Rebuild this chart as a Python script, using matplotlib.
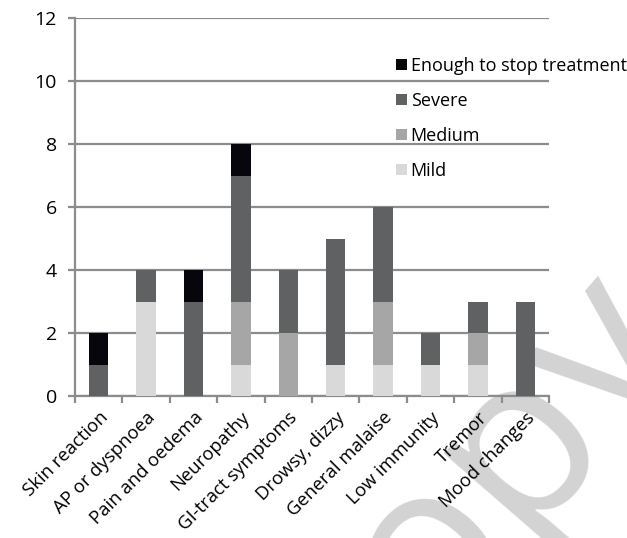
import numpy as np
import matplotlib.pyplot as plt

plt.rcParams['font.family'] = ['Open Sans', 'DejaVu Sans']

categories = ['Skin reaction', 'AP or dyspnoea', 'Pain and oedema', 'Neuropathy',
              'GI-tract symptoms', 'Drowsy, dizzy', 'General malaise', 'Low immunity',
              'Tremor', 'Mood changes']
mild = [0, 3, 0, 1, 0, 1, 1, 1, 1, 0]
medium = [0, 0, 0, 2, 2, 0, 2, 0, 1, 0]
severe = [1, 1, 3, 4, 2, 4, 3, 1, 1, 3]
stop = [1, 0, 1, 1, 0, 0, 0, 0, 0, 0]

series = [('Mild', mild, '#d9d9d9'),
          ('Medium', medium, '#a6a6a6'),
          ('Severe', severe, '#5f6162'),
          ('Enough to stop treatment', stop, '#06060c')]

fig = plt.figure(figsize=(6.27, 5.38), dpi=100)
ax = fig.add_axes([0.1196, 0.2639, 0.756, 0.7026])
ax.set_facecolor('none')

x = np.arange(len(categories))
bottom = np.zeros(len(categories))
handles = []
for name, vals, col in series:
    b = ax.bar(x, vals, 0.41, bottom=bottom, color=col, label=name, zorder=3)
    handles.append(b)
    bottom += np.array(vals)

ax.set_xlim(-0.5, len(categories) - 0.5)
ax.set_ylim(0, 12)
ax.set_yticks(range(0, 13, 2))
ax.yaxis.grid(True, color='#8c8c8c', linewidth=1.6, zorder=1)
ax.set_axisbelow(True)
for s in ['top', 'right']:
    ax.spines[s].set_visible(False)
for s in ['left', 'bottom']:
    ax.spines[s].set_color('#8c8c8c')
    ax.spines[s].set_linewidth(1.6)

ax.set_xticks(x)
ax.set_xticklabels(categories, rotation=45, ha='right', va='top',
                   rotation_mode='anchor', fontsize=13.3)
ax.set_xticks(np.arange(-0.5, len(categories), 1), minor=True)
ax.tick_params(axis='x', which='major', length=0, pad=9)
ax.tick_params(axis='x', which='minor', length=5, width=1.6, color='#8c8c8c')
ax.tick_params(axis='y', length=5, width=1.6, color='#8c8c8c', labelsize=14, pad=8)

leg = fig.legend(handles[::-1], [h.get_label() for h in handles[::-1]],
                 loc='upper left', bbox_to_anchor=(0.606, 0.925), frameon=False,
                 fontsize=13, handlelength=0.6, handleheight=0.6,
                 handletextpad=0.2, labelspacing=0.95)

# watermark, drawn under the axes
fig.text(0.533, -0.396, 'Copy', fontsize=165, color='#d3d3d3',
         rotation=49, rotation_mode='anchor', ha='left', va='baseline', zorder=-1)

fig.savefig('out.png', dpi=100)
